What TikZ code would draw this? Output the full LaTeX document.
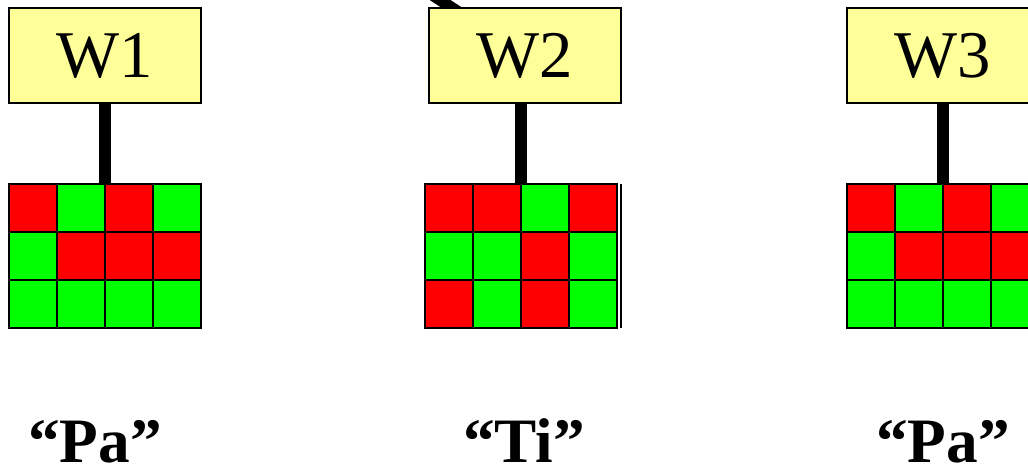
\documentclass[tikz,border=0pt]{standalone}
\usepackage{fontspec}
\setmainfont{Liberation Serif}
\usetikzlibrary{backgrounds}
\definecolor{wordbg}{HTML}{FFFF99}
\definecolor{cellred}{HTML}{FF0000}
\definecolor{cellgreen}{HTML}{00FF00}
\tikzset{
  wordbox/.style={draw, line width=1.1pt, fill=wordbg, inner sep=0pt,
    minimum width=3.84cm, minimum height=1.9cm,
    font=\fontsize{38}{40}\selectfont},
  cellgrid/.style={draw, line width=1.1pt, inner sep=0pt, outer sep=0pt,
    anchor=north west, minimum width=3.84cm, minimum height=2.88cm},
  stem/.style={line width=6.5pt},
  syllable/.style={anchor=base, inner sep=0pt,
    font=\fontsize{36}{38}\selectfont\bfseries},
}
% cell colours, row by row
\def\patPa{cellred,cellgreen,cellred,cellgreen,
  cellgreen,cellred,cellred,cellred,
  cellgreen,cellgreen,cellgreen,cellgreen}
\def\patTi{cellred,cellred,cellgreen,cellred,
  cellgreen,cellgreen,cellred,cellgreen,
  cellred,cellgreen,cellred,cellgreen}
\begin{document}
\begin{tikzpicture}[x=0.02cm, y=-0.02cm]
  \useasboundingbox (0,0) rectangle (1028,467);

  \node[wordbox] (w1) at (105,55.5) {W1};
  \node[wordbox] (w2) at (525,55.5) {W2};
  \node[wordbox] (w3) at (943,55.5) {W3};

  % colour grids
  \foreach \gx/\pat/\name in {9/Pa/g1, 425/Ti/g2, 847/Pa/g3} {
    \edef\cells{\csname pat\pat\endcsname}
    \foreach \c [count=\i from 0] in \cells {
      \pgfmathtruncatemacro{\col}{mod(\i,4)}
      \pgfmathtruncatemacro{\row}{\i/4}
      \draw[line width=1.1pt, fill=\c] (\gx+48*\col,184+48*\row) rectangle ++(48,48);
    }
    \node[cellgrid] (\name) at (\gx,184) {};
  }
  \draw[line width=1.1pt] (621,184) -- (621,328);

  \draw[stem] (g1.north) -- (g1.north |- w1.south);
  \draw[stem] (g2.north) -- (g2.north |- w2.south);
  \draw[stem] (g3.north) -- (g3.north |- w3.south);

  % link coming in from above, running under the box
  \coordinate (link) at (385,-36);
  \begin{scope}[on background layer]
    \draw[stem] (link) -- (w2.center);
  \end{scope}

  \node[syllable] (s1) at (95,462) {“Pa”};
  \node[syllable] (s2) at (524,462) {“Ti”};
  \node[syllable] (s3) at (943,462) {“Pa”};
\end{tikzpicture}
\end{document}
